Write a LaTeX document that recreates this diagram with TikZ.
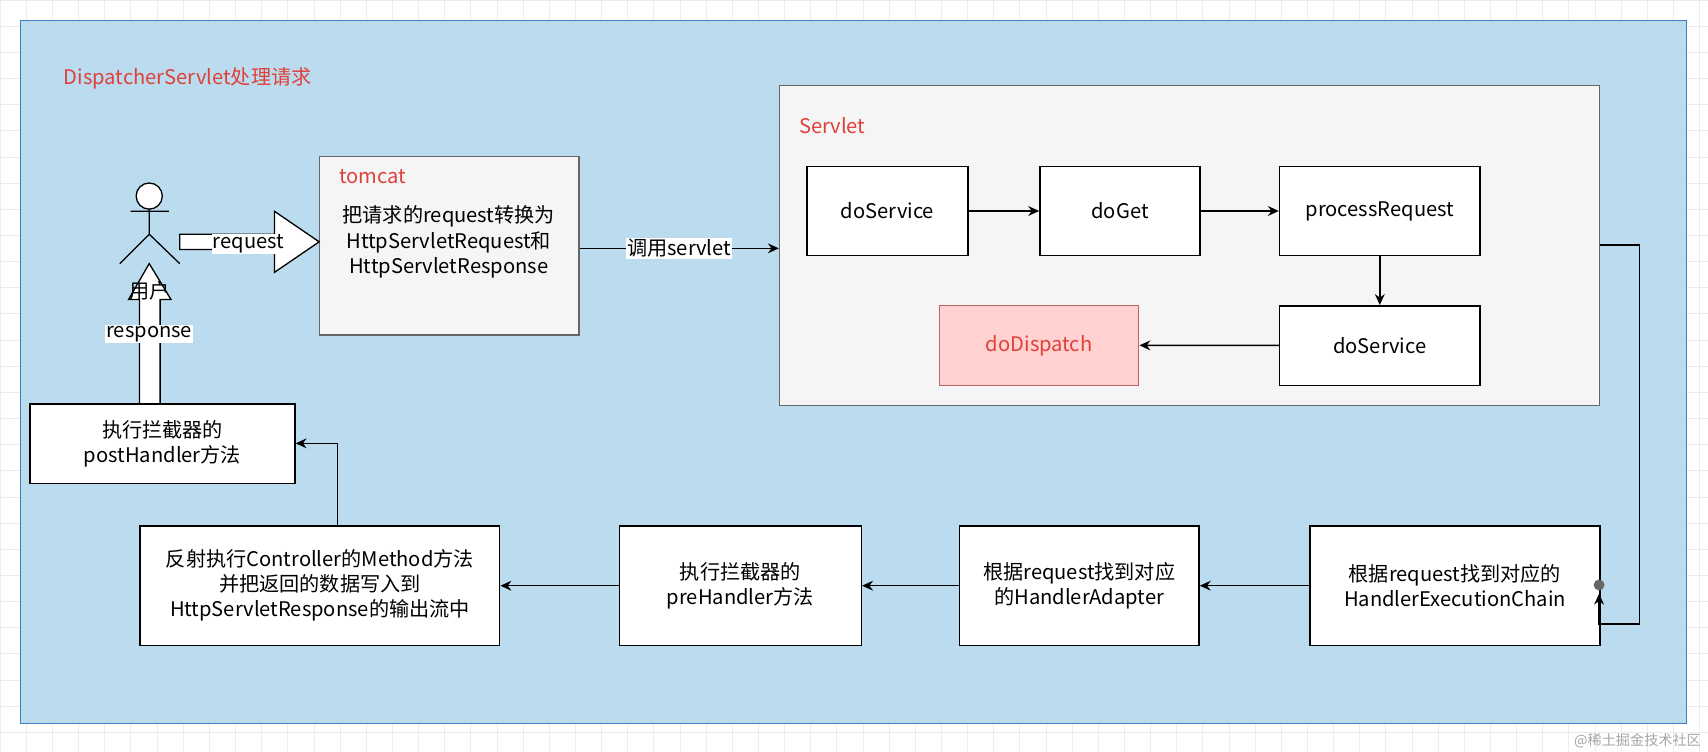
\documentclass[tikz,border=0pt]{standalone}
\usepackage{fontspec}
\setmainfont{Noto Sans CJK SC}
\usetikzlibrary{arrows.meta,shapes.arrows}
\definecolor{bgblue}{HTML}{BBDCEE}
\definecolor{bdblue}{HTML}{3C7FC0}
\definecolor{redt}{HTML}{E0403A}
\definecolor{grayf}{HTML}{F5F5F5}
\definecolor{grayb}{HTML}{666666}
\begin{document}
\begin{tikzpicture}[x=1pt,y=-1pt,
  font=\fontsize{18.5}{23}\selectfont,
  box/.style={draw=black,line width=1.4pt,fill=white,align=center,anchor=north west,inner sep=0pt},
  arr/.style={-{Stealth[length=10pt,width=9pt]},line width=1.4pt},
  lbl/.style={fill=white,inner sep=1pt}]
\useasboundingbox (0,0) rectangle (1568,690);
\fill[white] (0,0) rectangle (1568,690);
\foreach \x in {0,24,...,1568} \draw[gray!15] (\x,0)--(\x,690);
\foreach \y in {0,24,...,690} \draw[gray!15] (0,\y)--(1568,\y);
\node[draw=bdblue,line width=1pt,fill=bgblue,minimum width=1530pt,minimum height=646pt,anchor=north west,inner sep=0pt] (main) at (18,18) {};
\node[text=redt,anchor=west] (title) at (55,72) {DispatcherServlet处理请求};
\node[text=gray!70,anchor=east,font=\fontsize{13}{15}\selectfont] (wm) at (1565,680) {@稀土掘金技术社区};
% servlet
\node[draw=grayb,line width=1pt,fill=grayf,minimum width=753pt,minimum height=294pt,anchor=north west,inner sep=0pt] (servlet) at (715,78) {};
\node[text=redt,anchor=west] (sl) at (730,115) {Servlet};
\node[box,minimum width=148pt,minimum height=82pt] (ds1) at (740,152) {doService};
\node[box,minimum width=147pt,minimum height=82pt] (dg) at (954,152) {doGet};
\node[box,minimum width=184pt,minimum height=82pt] (pr) at (1174,152) {processRequest};
\node[box,minimum width=184pt,minimum height=73pt] (ds2) at (1174,280) {doService};
\node[box,draw=red!55!black!60,line width=1pt,fill=red!18,text=redt,minimum width=183pt,minimum height=73pt] (dd) at (862,280) {doDispatch};
\draw[arr] (ds1) -- (dg);
\draw[arr] (dg) -- (pr);
\draw[arr] (pr) -- (ds2);
\draw[arr] (ds2) -- (dd);
% tomcat
\node[draw=grayb,line width=1pt,fill=grayf,minimum width=238pt,minimum height=164pt,anchor=north west,inner sep=0pt] (tc) at (293,143) {};
\node[text=redt,anchor=west] (tcl) at (308,162) {tomcat};
\node[align=center] (tct) at (412,222) {把请求的request转换为\\HttpServletRequest和\\HttpServletResponse};
\draw[arr] (tc.east |- 0,228) coordinate (c1) -- (servlet.west |- 0,228) node[midway,lbl] {调用servlet};
% actor
\draw[line width=1.2pt,fill=white] (137,180) circle (12);
\coordinate (neck) at (137,192);
\draw[line width=1.2pt] (neck) -- (137,215) (120,194) -- (155,194) (137,215) -- (110,242) (137,215) -- (165,242);
% request block arrow
\coordinate (rq0) at (165,222);
\draw[line width=1.2pt,fill=white] (165,215) -- (252,215) -- (252,194) -- (293,222) -- (252,250) -- (252,229) -- (165,229) -- cycle;
\node[lbl] (rql) at (228,224) {request};
% response block arrow
\draw[line width=1.2pt,fill=white] (128,370) -- (128,275) -- (118,275) -- (137,242) -- (157,275) -- (147,275) -- (147,370);
\node (user) at (137,267) {用户};
\node[lbl] (rsl) at (137,307) {response};
% bottom boxes
\node[box,minimum width=243pt,minimum height=73pt] (post) at (27,370) {执行拦截器的\\postHandler方法};
\node[box,minimum width=330pt,minimum height=110pt] (ctl) at (128,482) {反射执行Controller的Method方法\\并把返回的数据写入到\\HttpServletResponse的输出流中};
\node[box,minimum width=222pt,minimum height=110pt] (pre) at (568,482) {执行拦截器的\\preHandler方法};
\node[box,minimum width=220pt,minimum height=110pt] (ha) at (880,482) {根据request找到对应\\的HandlerAdapter};
\node[box,minimum width=266pt,minimum height=110pt] (hec) at (1202,482) {根据request找到对应的\\HandlerExecutionChain};
\draw[arr] (hec) -- (ha);
\draw[arr] (ha) -- (pre);
\draw[arr] (pre) -- (ctl);
\draw[arr] (ctl.north -| 310,0) -- (310,407) -- (post.east |- 0,407);
\coordinate (k) at (1468,573);
\draw[arr] (servlet.east |- 0,225) -- (1505,225) -- (1505,573) -- (k) -- (1468,545);
\fill[gray!80!black] (1468,537) circle (5);
\end{tikzpicture}
\end{document}
